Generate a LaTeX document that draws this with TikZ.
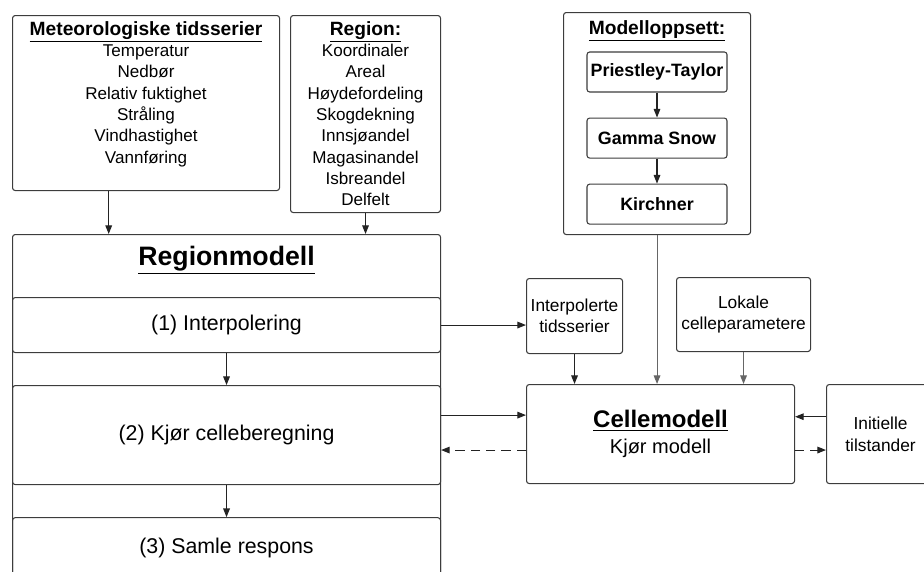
\documentclass[tikz,border=0pt]{standalone}
\usepackage{fontspec}
\setmainfont{Liberation Sans}
\usetikzlibrary{arrows.meta,positioning}
\definecolor{boxgrey}{RGB}{60,60,60}
\definecolor{linegrey}{RGB}{35,35,35}
\tikzset{
  box/.style={draw=boxgrey,line width=0.8pt,rounded corners=2pt,inner sep=2pt,
              align=center,font=\fontsize{13}{16}\selectfont},
  lbox/.style={box,anchor=north west},
  mbox/.style={box,minimum width=105pt,minimum height=30pt,
               font=\fontsize{13.4}{16}\selectfont\bfseries},
  sbox/.style={box,minimum width=321pt,font=\fontsize{16}{19}\selectfont},
  txt/.style={align=center,inner sep=0pt,font=\fontsize{12.8}{16}\selectfont},
  arr/.style={-{Triangle[length=6.5pt,width=5pt]},line width=0.8pt,draw=linegrey},
  darr/.style={arr,dash pattern=on 7pt off 4.5pt},
}
\newcommand{\boxtitle}[1]{\underline{\textbf{#1}}}
\newcommand{\headtitle}[1]{{\fontsize{14.4}{16}\selectfont\boxtitle{#1}}}

\begin{document}
\begin{tikzpicture}[x=0.75pt,y=-0.75pt]
  \useasboundingbox (0,0) rectangle (924,571);
  \clip (0,0) rectangle (924,571);
  % inndata
  \node[lbox,minimum width=200.25pt,minimum height=131.25pt] (met) at (12,15) {};
  \node[txt,anchor=north] (mettxt) at ([yshift=-4.5pt]met.north)
        {\headtitle{Meteorologiske tidsserier}\\Temperatur\\Nedbør\\
         Relativ fuktighet\\Stråling\\Vindhastighet\\Vannføring};
  \node[lbox,minimum width=112.5pt,minimum height=147.75pt] (reg) at (290,15) {};
  \node[txt,anchor=north] (regtxt) at ([yshift=-4.5pt]reg.north)
        {\headtitle{Region:}\\Koordinaler\\Areal\\Høydefordeling\\Skogdekning\\
         Innsjøandel\\Magasinandel\\Isbreandel\\Delfelt};
  % modelloppsett
  \node[lbox,minimum width=140.25pt,minimum height=166.5pt] (mod) at (563,12) {};
  \node[txt,anchor=north] (modtxt) at ([yshift=-6pt]mod.north)
        {\headtitle{Modelloppsett:}};
  \node[mbox] (pt) at (657,72) {Priestley-Taylor};
  \node[mbox,below=18.75pt of pt] (gs) {Gamma Snow};
  \node[mbox,below=18.75pt of gs] (ki) {Kirchner};
  % regionmodell
  \node[lbox,minimum width=321pt,minimum height=259.5pt] (regmod) at (12,234) {};
  \node[txt,anchor=north,font=\fontsize{20}{24}\selectfont] (regmodtxt)
        at ([yshift=-9pt]regmod.north) {\boxtitle{Regionmodell}};
  \node[sbox,anchor=north west,minimum height=41.25pt] (interp) at (12,297)
        {(1) Interpolering};
  \node[sbox,minimum height=74.25pt,below=24pt of interp] (kjor)
        {(2) Kjør celleberegning};
  \node[sbox,minimum height=45pt,below=24pt of kjor] (samle)
        {(3) Samle respons};
  % cellemodell
  \node[lbox,minimum width=72pt,minimum height=56.25pt] (ipts) at (526,278)
        {Interpolerte\\tidsserier};
  \node[lbox,minimum width=100.5pt,minimum height=55.5pt] (lok) at (676,277)
        {Lokale\\celleparametere};
  \node[lbox,minimum width=201pt,minimum height=74.25pt] (cell) at (526,384)
        {{\fontsize{18}{21}\selectfont\boxtitle{Cellemodell}}\\[3pt]
         {\fontsize{15}{18}\selectfont Kjør modell}};
  \node[lbox,minimum width=81pt,minimum height=74.25pt,
        font=\fontsize{13}{16.5}\selectfont] (init) at (826,384)
        {Initielle\\tilstander};
  % piler
  \draw[arr] ([xshift=-28pt]met.south) -- ([xshift=-28pt]met.south |- regmod.north);
  \draw[arr] (reg.south) -- (reg.south |- regmod.north);
  \draw[arr] (pt) -- (gs);
  \draw[arr] (gs) -- (ki);
  \draw[arr] (interp.east) -- (interp.east -| ipts.west);
  \draw[arr] (interp.south) -- (kjor.north);
  \draw[arr] (kjor.south) -- (samle.north);
  \draw[arr] ([yshift=15pt]kjor.east) -- ([yshift=15pt]kjor.east -| cell.west);
  \draw[darr] ([yshift=-12pt]cell.west) -- ([yshift=-12pt]cell.west -| kjor.east);
  \draw[arr] (ipts.south) -- (ipts.south |- cell.north);
  \draw[arr,draw=black!60] (mod.south) -- (mod.south |- cell.north);
  \draw[arr,draw=black!60] (lok.south) -- (lok.south |- cell.north);
  \draw[arr] ([yshift=13pt]init.west) -- ([yshift=13pt]init.west -| cell.east);
  \draw[darr] ([yshift=-12pt]cell.east) -- ([yshift=-12pt]cell.east -| init.west);
\end{tikzpicture}
\end{document}
